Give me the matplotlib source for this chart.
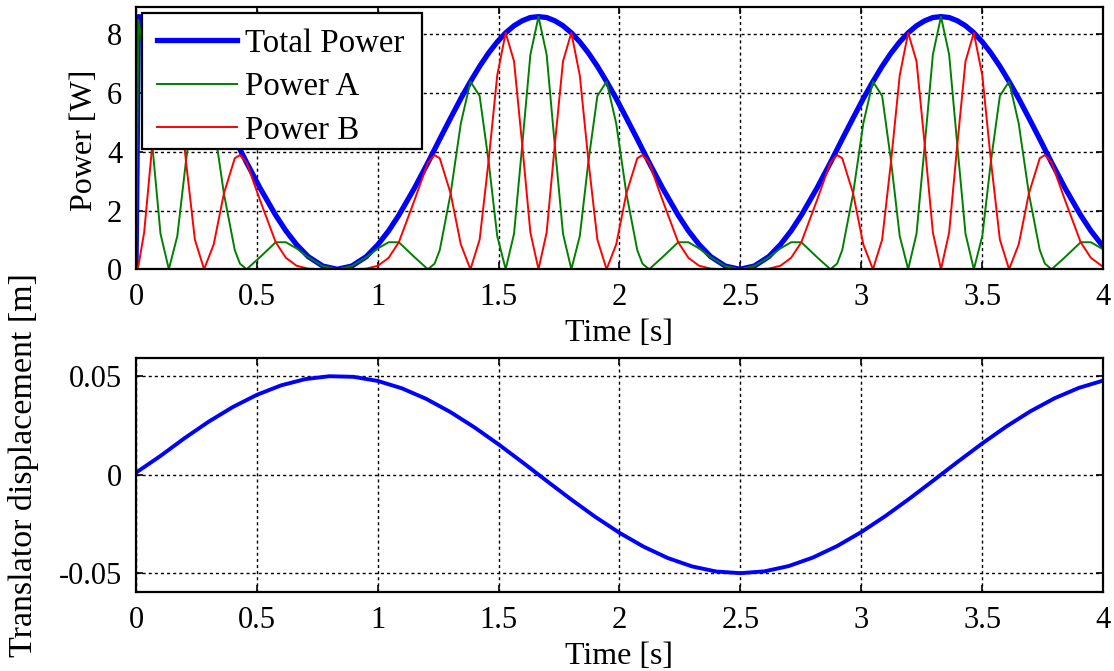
import matplotlib
matplotlib.use("Agg")
import matplotlib.pyplot as plt
from matplotlib.patches import Rectangle

# ---- data ----
# time samples for the power traces [s]
t_pow = [
    0.0000, 0.0100, 0.0336, 0.0673, 0.1013, 0.1358, 0.1708, 0.2066, 0.2435, 0.2816,
    0.3215, 0.3635, 0.4086, 0.4300, 0.4576, 0.5127, 0.5778, 0.6200, 0.6643, 0.7125,
    0.7725, 0.8325, 0.8925, 0.9525, 1.0007, 1.0450, 1.0872, 1.1523, 1.2074, 1.2350,
    1.2564, 1.3015, 1.3435, 1.3834, 1.4215, 1.4584, 1.4942, 1.5292, 1.5637, 1.5977,
    1.6314, 1.6650, 1.6986, 1.7323, 1.7663, 1.8008, 1.8358, 1.8716, 1.9085, 1.9466,
    1.9865, 2.0285, 2.0736, 2.0950, 2.1226, 2.1777, 2.2428, 2.2850, 2.3293, 2.3775,
    2.4375, 2.4975, 2.5575, 2.6175, 2.6657, 2.7100, 2.7522, 2.8173, 2.8724, 2.9000,
    2.9214, 2.9665, 3.0085, 3.0484, 3.0865, 3.1234, 3.1592, 3.1942, 3.2287, 3.2627,
    3.2964, 3.3300, 3.3636, 3.3973, 3.4313, 3.4658, 3.5008, 3.5366, 3.5735, 3.6116,
    3.6515, 3.6935, 3.7386, 3.7600, 3.7876, 3.8427, 3.9078, 3.9500, 3.9943, 4.0000,
]

# total power [W]
p_total = [
    0.00, 8.60, 8.57, 8.46, 8.29, 8.05, 7.74, 7.36, 6.91, 6.39,
    5.81, 5.15, 4.43, 4.08, 3.63, 2.77, 1.84, 1.31, 0.84, 0.43,
    0.11, 0.00, 0.11, 0.43, 0.84, 1.31, 1.84, 2.77, 3.63, 4.08,
    4.43, 5.15, 5.81, 6.39, 6.91, 7.36, 7.74, 8.05, 8.29, 8.46,
    8.57, 8.60, 8.57, 8.46, 8.29, 8.05, 7.74, 7.36, 6.91, 6.39,
    5.81, 5.15, 4.43, 4.08, 3.63, 2.77, 1.84, 1.31, 0.84, 0.43,
    0.11, 0.00, 0.11, 0.43, 0.84, 1.31, 1.84, 2.77, 3.63, 4.08,
    4.43, 5.15, 5.81, 6.39, 6.91, 7.36, 7.74, 8.05, 8.29, 8.46,
    8.57, 8.60, 8.57, 8.46, 8.29, 8.05, 7.74, 7.36, 6.91, 6.39,
    5.81, 5.15, 4.43, 4.08, 3.63, 2.77, 1.84, 1.31, 0.84, 0.78,
]

# power of phase A [W]
p_a = [
    0.00, 8.48, 7.31, 4.23, 1.21, 0.00, 1.13, 3.68, 5.90, 6.39,
    4.96, 2.58, 0.65, 0.19, 0.00, 0.41, 0.92, 0.92, 0.71, 0.41,
    0.11, 0.00, 0.11, 0.41, 0.71, 0.92, 0.92, 0.41, 0.00, 0.19,
    0.65, 2.58, 4.96, 6.39, 5.90, 3.68, 1.13, 0.00, 1.21, 4.23,
    7.31, 8.60, 7.31, 4.23, 1.21, 0.00, 1.13, 3.68, 5.90, 6.39,
    4.96, 2.58, 0.65, 0.19, 0.00, 0.41, 0.92, 0.92, 0.71, 0.41,
    0.11, 0.00, 0.11, 0.41, 0.71, 0.92, 0.92, 0.41, 0.00, 0.19,
    0.65, 2.58, 4.96, 6.39, 5.90, 3.68, 1.13, 0.00, 1.21, 4.23,
    7.31, 8.60, 7.31, 4.23, 1.21, 0.00, 1.13, 3.68, 5.90, 6.39,
    4.96, 2.58, 0.65, 0.19, 0.00, 0.41, 0.92, 0.92, 0.71, 0.68,
]

# power of phase B [W]
p_b = [
    0.00, 0.12, 1.25, 4.23, 7.08, 8.05, 6.60, 3.68, 1.01, 0.00,
    0.85, 2.58, 3.78, 3.89, 3.63, 2.36, 0.92, 0.39, 0.12, 0.02,
    0.00, 0.00, 0.00, 0.02, 0.12, 0.39, 0.92, 2.36, 3.63, 3.89,
    3.78, 2.58, 0.85, 0.00, 1.01, 3.68, 6.60, 8.05, 7.08, 4.23,
    1.25, 0.00, 1.25, 4.23, 7.08, 8.05, 6.60, 3.68, 1.01, 0.00,
    0.85, 2.58, 3.78, 3.89, 3.63, 2.36, 0.92, 0.39, 0.12, 0.02,
    0.00, 0.00, 0.00, 0.02, 0.12, 0.39, 0.92, 2.36, 3.63, 3.89,
    3.78, 2.58, 0.85, 0.00, 1.01, 3.68, 6.60, 8.05, 7.08, 4.23,
    1.25, 0.00, 1.25, 4.23, 7.08, 8.05, 6.60, 3.68, 1.01, 0.00,
    0.85, 2.58, 3.78, 3.89, 3.63, 2.36, 0.92, 0.39, 0.12, 0.10,
]

# translator displacement [m]
t_disp = [
    0.0, 0.1, 0.2, 0.3, 0.4, 0.5, 0.6, 0.7, 0.8, 0.9,
    1.0, 1.1, 1.2, 1.3, 1.4, 1.5, 1.6, 1.7, 1.8, 1.9,
    2.0, 2.1, 2.2, 2.3, 2.4, 2.5, 2.6, 2.7, 2.8, 2.9,
    3.0, 3.1, 3.2, 3.3, 3.4, 3.5, 3.6, 3.7, 3.8, 3.9, 4.0,
]
disp = [
    0.00100, 0.00938, 0.01842, 0.02682, 0.03426, 0.04048, 0.04527, 0.04845, 0.04991, 0.04960,
    0.04752, 0.04377, 0.03845, 0.03178, 0.02397, 0.01532, 0.00612, -0.00330, -0.01260, -0.02145,
    -0.02954, -0.03658, -0.04233, -0.04657, -0.04916, -0.05000, -0.04907, -0.04639, -0.04207, -0.03626,
    -0.02916, -0.02102, -0.01214, -0.00283, 0.00659, 0.01576, 0.02439, 0.03214, 0.03875, 0.04399,
    0.04767,
]

x_ticks = [0, 0.5, 1, 1.5, 2, 2.5, 3, 3.5, 4]
x_tick_labels = ["0", "0.5", "1", "1.5", "2", "2.5", "3", "3.5", "4"]
p_ticks = [0, 2, 4, 6, 8]
d_ticks = [-0.05, 0, 0.05]
d_tick_labels = ["-0.05", "0", "0.05"]

# ---- style ----
plt.rcParams["font.family"] = ["Liberation Serif", "DejaVu Serif"]
plt.rcParams["axes.unicode_minus"] = False
FS_TICK = 22
FS_LABEL = 23
FS_LEG = 23.7
W, H = 1114, 671

fig = plt.figure(figsize=(W / 100, H / 100), dpi=100)
ax1 = fig.add_axes([0.1221, 0.5987, 0.868, 0.3914])
ax2 = fig.add_axes([0.1221, 0.1173, 0.868, 0.3487])


def style_axes(ax):
    ax.grid(True, color="k", linestyle=(0, (2.2, 2.2)), linewidth=1.0)
    ax.set_axisbelow(True)
    ax.tick_params(direction="in", length=5, width=1.2, top=True, right=True,
                   labelsize=FS_TICK, pad=10)
    for sp in ax.spines.values():
        sp.set_linewidth(1.6)
        sp.set_color("k")


# top: power
ax1.plot(t_pow, p_total, color="b", lw=3.8, label="Total Power")
ax1.plot(t_pow, p_a, color=(0, 0.5, 0), lw=1.4, label="Power A")
ax1.plot(t_pow, p_b, color="r", lw=1.4, label="Power B")
ax1.set_xlim(0, 4)
ax1.set_ylim(0, 8.94)
ax1.set_xticks(x_ticks, x_tick_labels)
ax1.set_yticks(p_ticks)
style_axes(ax1)
ax1.set_xlabel("Time [s]", fontsize=FS_LABEL, labelpad=5)

# legend box drawn by hand so its padding matches the original
box = Rectangle((141.7 / W, 1 - 149 / H), (422.3 - 141.7) / W, (149 - 12.7) / H,
                transform=fig.transFigure, facecolor="white", edgecolor="k",
                linewidth=1.6, zorder=4, clip_on=False)
ax1.add_patch(box)
leg = ax1.legend(loc="upper left", bbox_to_anchor=(157.3 / W, 1 - 28.5 / H),
                 bbox_transform=fig.transFigure, borderaxespad=0, borderpad=0,
                 fontsize=FS_LEG, handlelength=2.41, handletextpad=0.25,
                 labelspacing=0.39, frameon=False)
leg.set_zorder(5)

# bottom: displacement
ax2.plot(t_disp, disp, color="b", lw=2.8)
ax2.set_xlim(0, 4)
ax2.set_ylim(-0.0597, 0.059)
ax2.set_xticks(x_ticks, x_tick_labels)
ax2.set_yticks(d_ticks, d_tick_labels)
style_axes(ax2)
ax2.set_xlabel("Time [s]", fontsize=FS_LABEL, labelpad=5)

fig.text(85 / W, 1 - 140 / H, "Power [W]", rotation=90, ha="center", va="center",
         fontsize=FS_LABEL)
fig.text(24 / W, 1 - 465 / H, "Translator displacement [m]", rotation=90,
         ha="center", va="center", fontsize=24.5)

fig.savefig("out.png", dpi=100)
